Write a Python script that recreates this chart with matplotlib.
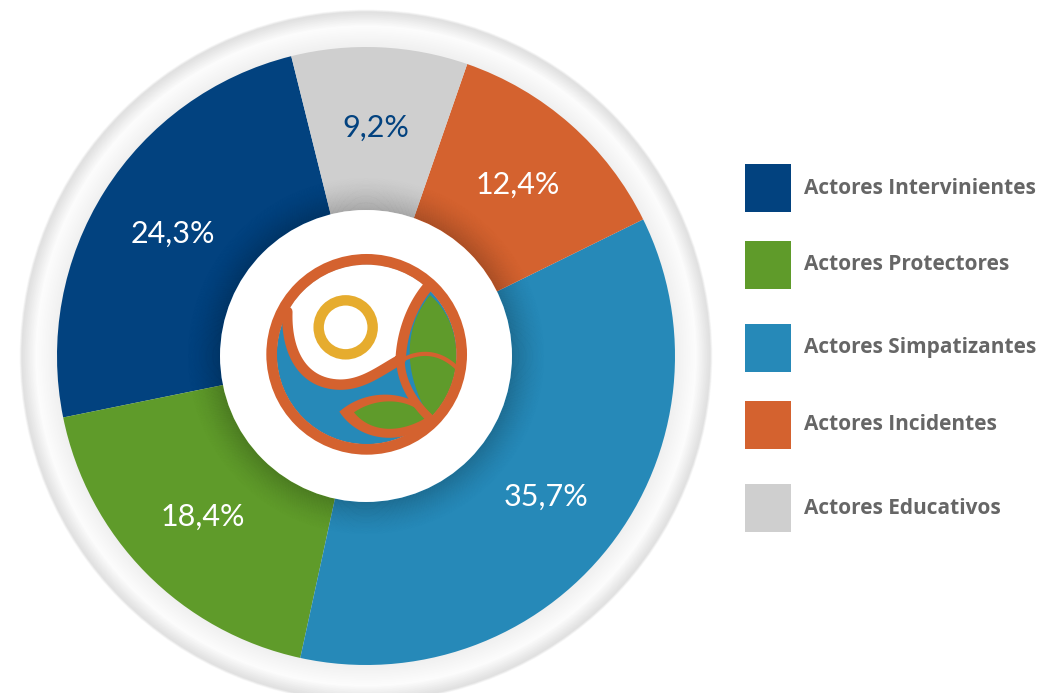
import numpy as np
import matplotlib
matplotlib.use("Agg")
import matplotlib.pyplot as plt
from matplotlib.patches import Circle, Wedge, Rectangle
from matplotlib.path import Path

# data
categories = ["Actores Intervinientes", "Actores Protectores", "Actores Simpatizantes",
              "Actores Incidentes", "Actores Educativos"]
shares = [24.3, 18.4, 35.7, 12.4, 9.2]
colors = ["#02427f", "#5f9b2a", "#2689b8", "#d4622f", "#cfcfcf"]

W, H = 1039, 693
fig = plt.figure(figsize=(W / 100, H / 100), dpi=100, facecolor="white")
ax = fig.add_axes([0, 0, 1, 1])

cx, cy = 366, H - 356
R = 309
R_in = 146

# outer light ring with soft grey edges
for r in np.linspace(347, R, 60):
    t = (r - R) / (347 - R)          # 0 at pie edge, 1 outside
    if t > 0.93:
        g = 1.0 - (1 - t) / 0.07 * 0.12
    elif t > 0.55:
        g = 0.88 + (0.93 - t) / 0.38 * 0.11
    else:
        g = 0.99 - (0.55 - t) / 0.55 * 0.05
    ax.add_patch(Circle((cx, cy), r, color=(g, g, g), lw=0, zorder=1))

wedges, texts, autotexts = ax.pie(
    shares, colors=colors, startangle=104, counterclock=True,
    center=(cx, cy), radius=R, pctdistance=0.74,
    autopct=lambda p: f"{p:.1f}%".replace(".", ","),
    wedgeprops=dict(linewidth=0, zorder=2),
    textprops=dict(color="white", fontsize=22, family="Lato"))
for w in wedges:
    w.set_zorder(2)
for t in autotexts:
    t.set_zorder(6)
autotexts[4].set_color("#02427f")

# shadow around the inner hole
for r in np.linspace(R_in, R_in + 34, 40):
    t = (r - R_in) / 34
    a = 0.17 * (1 - t) ** 1.6
    ax.add_patch(Wedge((cx, cy), r + 1, 0, 360, width=1.0, color="black",
                       alpha=a, lw=0, zorder=3))
ax.add_patch(Circle((cx, cy), R_in, color="white", lw=0, zorder=4))

# logo in the middle
def z(px, py):
    return (200 + px / 3, H - (180 + py / 3))

orange = "#d4622f"
blue = "#2689b8"
green = "#5f9b2b"
lcx, lcy = z(500, 523)
disc = Circle((lcx, lcy), 90, color=blue, lw=0, zorder=5)
ax.add_patch(disc)

def bez(start, segs, n=30):
    pts = [np.array(z(*start))]
    p0 = pts[0]
    for c1, c2, e in segs:
        c1, c2, e = np.array(z(*c1)), np.array(z(*c2)), np.array(z(*e))
        s = np.linspace(0, 1, n)[1:, None]
        seg = ((1 - s) ** 3) * p0 + 3 * ((1 - s) ** 2) * s * c1 + 3 * (1 - s) * s ** 2 * c2 + s ** 3 * e
        pts.extend(seg)
        p0 = e
    return np.array(pts)

s_curve = bez((262, 395), [((258, 520), (310, 612), (420, 614)),
                           ((490, 614), (540, 572), (602, 538)),
                           ((606, 450), (640, 372), (682, 322))])
a0 = np.degrees(np.arctan2(s_curve[-1][1] - lcy, s_curve[-1][0] - lcx))
a1 = np.degrees(np.arctan2(s_curve[0][1] - lcy, s_curve[0][0] - lcx))
ang = np.radians(np.linspace(a0, a1, 60))
arc = np.column_stack([lcx + 95 * np.cos(ang), lcy + 95 * np.sin(ang)])
white_poly = np.vstack([s_curve, arc])
wp = plt.Polygon(white_poly, closed=True, color="white", lw=0, zorder=6)
ax.add_patch(wp)
wp.set_clip_path(disc)

leaf_r = bez((690, 345), [((620, 430), (598, 560), (690, 715)),
                          ((780, 640), (810, 450), (690, 345))])
lr = plt.Polygon(leaf_r, closed=True, color=green, lw=0, zorder=6)
ax.add_patch(lr)
lr.set_clip_path(disc)

leaf_b_out = bez((418, 695), [((500, 622), (640, 625), (705, 718)),
                              ((620, 800), (480, 790), (418, 695))])
ax.add_patch(plt.Polygon(leaf_b_out, closed=True, color=orange, lw=0, zorder=7))
leaf_b_in = bez((462, 697), [((530, 650), (630, 652), (680, 712)),
                             ((600, 762), (510, 758), (462, 697))])
ax.add_patch(plt.Polygon(leaf_b_in, closed=True, color=green, lw=0, zorder=8))

ax.plot(s_curve[:, 0], s_curve[:, 1], color=orange, lw=7.5, zorder=9,
        solid_capstyle="round")
left_low = bez((602, 538), [((600, 600), (640, 670), (690, 715))])
ax.plot(left_low[:, 0], left_low[:, 1], color=orange, lw=6, zorder=9)
vein = bez((606, 540), [((660, 512), (720, 512), (775, 568))])
ax.plot(vein[:, 0], vein[:, 1], color=orange, lw=3, zorder=9)
ax.add_patch(Circle((lcx, lcy), 95, fill=False, ec=orange, lw=7.7, zorder=10))
ycx, ycy = z(437, 442)
ax.add_patch(Circle((ycx, ycy), 27, fill=False, ec="#e6ac2e", lw=7.5, zorder=10))

# legend
row_y = [188, 265, 348, 425, 508]
for lab, col, yy in zip(categories, colors, row_y):
    ax.add_patch(Rectangle((745, H - yy - 24), 46, 48, color=col, lw=0, zorder=5))
    ax.text(804, H - yy, lab, fontsize=15, fontweight="bold", color="#666666",
            family="Open Sans", va="center", ha="left", zorder=6)

ax.set_xlim(0, W)
ax.set_ylim(0, H)
ax.set_aspect("equal")
ax.axis("off")

fig.savefig("out.png", dpi=100, facecolor="white")
